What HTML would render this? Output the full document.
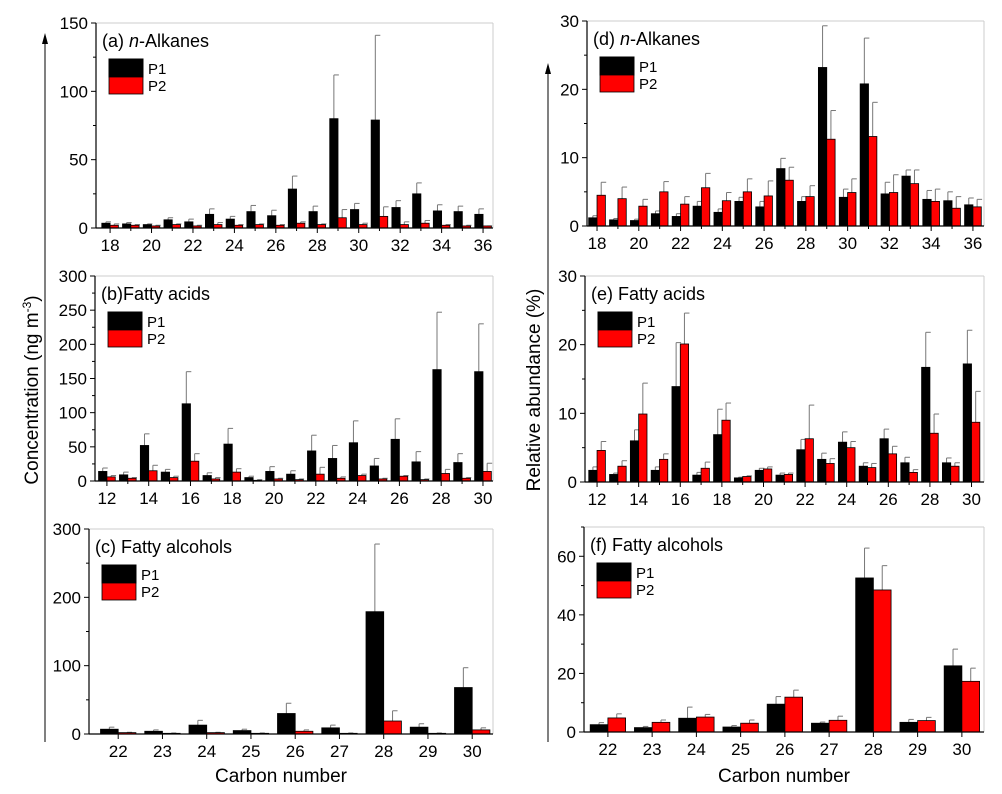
<!DOCTYPE html>
<html><head><meta charset="utf-8">
<style>
body{margin:0;background:#fff;}
svg{display:block;font-family:"Liberation Sans",Arial,sans-serif;}
</style></head>
<body>
<svg id="chart" width="1002" height="794" viewBox="0 0 1002 794" xmlns="http://www.w3.org/2000/svg">
<g>
<line x1="45" y1="742" x2="45" y2="40" stroke="#000" stroke-width="1"/>
<polygon points="45,33 42,44 48,44" fill="#000"/>
<text x="38" y="390" font-size="19" text-anchor="middle" transform="rotate(-90 38 390)">Concentration (ng m<tspan font-size="12" dy="-7">-3</tspan><tspan dy="7">)</tspan></text>
</g>
<g>
<line x1="548" y1="742" x2="548" y2="70" stroke="#000" stroke-width="1"/>
<polygon points="548,63 545,74 551,74" fill="#000"/>
<text x="540" y="390" font-size="19" text-anchor="middle" transform="rotate(-90 540 390)">Relative abundance (%)</text>
</g>
<text x="281" y="782" font-size="19" text-anchor="middle">Carbon number</text>
<text x="784" y="782" font-size="19" text-anchor="middle">Carbon number</text>
</svg>
<script>
const alkC=[18,19,20,21,22,23,24,25,26,27,28,29,30,31,32,33,34,35,36];
const faC=[12,13,14,15,16,17,18,19,20,21,22,23,24,25,26,27,28,29,30];
const alcC=[22,23,24,25,26,27,28,29,30];
const aP1=[3.5,3,2.5,6,4.5,10,6.5,12,9,28.5,12,80,13.5,79,15,25,12.5,12,10];
const aP1e=[4.5,4,3,7.5,6.5,14,8.5,16.5,13,38,16,112,18,141,20,33,17,16,14];
const aP2=[2,2,1.5,2.5,1.5,2.5,2,2.5,2,3.5,2.5,7.5,2.5,8.5,2.5,3.5,2,1.5,1.5];
const aP2e=[3,2.5,2,3,2,4,2.5,3,2.5,4.5,3,13.5,3.5,15.5,4.5,5.5,2.5,2,1.5];
const bP1=[14,9,52,13,113,8,54,5,14,10,44,33,56,22,61,28,163,27,160];
const bP1e=[19,13,69,17,160,12,77,7,21,15,67,52,88,33,91,43,247,40,230];
const bP2=[6,4,15,5,29,3,13,1,3,2,10,4,8,3,7,2,11,4,14];
const bP2e=[8,5,23,7,40,5,18,2,4,3,20,6,10,4,8,3,17,5,26];
const cP1=[7,4,13,5,30,9,179,10,68];
const cP1e=[10,6,20,7,45,13,278,15,97];
const cP2=[2,1,2,1,4,1,19,1,6];
const cP2e=[2.5,1.5,2.5,1.5,6,1.5,34,1.5,9];
const dP1=[1.2,0.9,0.8,1.8,1.4,2.9,2.0,3.6,2.8,8.4,3.6,23.2,4.2,20.8,4.7,7.3,3.9,3.7,3.1];
const dP1e=[1.5,1.1,1.0,2.2,1.8,3.6,2.5,4.2,3.6,9.9,4.3,29.3,5.4,27.5,6.4,8.2,5.2,5.0,4.1];
const dP2=[4.5,4.0,2.9,5.0,3.2,5.6,3.7,5.0,4.4,6.7,4.3,12.7,4.9,13.1,4.9,6.2,3.6,2.6,2.8];
const dP2e=[6.4,5.7,3.9,6.5,4.3,7.7,4.9,6.9,6.6,8.6,5.9,16.9,6.9,18.1,7.5,8.2,5.4,4.3,3.9];
const eP1=[1.7,1.1,6.0,1.7,13.9,1.0,6.9,0.6,1.7,1.0,4.7,3.3,5.8,2.3,6.3,2.8,16.7,2.8,17.2];
const eP1e=[2.2,1.3,7.6,2.2,20.3,1.4,10.6,0.7,2.0,1.3,6.2,4.2,7.3,2.8,7.7,3.6,21.8,3.5,22.1];
const eP2=[4.6,2.3,9.9,3.3,20.1,2.0,9.0,0.8,1.9,1.1,6.3,2.7,5.0,2.1,4.1,1.4,7.1,2.3,8.7];
const eP2e=[5.9,3.1,14.4,4.1,24.6,2.9,11.5,0.9,2.2,1.3,11.2,3.4,5.9,2.7,5.2,1.8,9.9,2.8,13.2];
const fP1=[2.5,1.5,4.7,1.7,9.5,3.0,52.6,3.3,22.6];
const fP1e=[3.2,1.9,8.5,2.2,12.1,3.4,62.8,4.3,28.3];
const fP2=[4.8,3.3,5.1,3.0,11.9,4.0,48.5,3.9,17.3];
const fP2e=[6.2,4.1,6.0,4.1,14.3,5.4,56.8,5.0,21.8];
const alkTicks=[18,20,22,24,26,28,30,32,34,36];
const faTicks=[12,14,16,18,20,22,24,26,28,30];
const yTicksA=[0,50,100,150];
const yTicksB=[0,50,100,150,200,250,300];
const yTicksC=[0,100,200,300];
const yTicksD=[0,10,20,30];
const yTicksF=[0,20,40,60];

const NS='http://www.w3.org/2000/svg';
const svg=document.getElementById('chart');
function mk(tag,attrs,parent){const e=document.createElementNS(NS,tag);for(const k in attrs)e.setAttribute(k,attrs[k]);parent.appendChild(e);return e;}

function panel(o){
  const g=mk('g',{},svg);
  
  
  const sx=v=>o.L+(v-o.x0)/(o.x1-o.x0)*(o.R-o.L);
  const sy=v=>o.B-(v-o.y0)/(o.y1-o.y0)*(o.B-o.T);
  const step=sx(1)-sx(0), bw=step*0.4;
  mk('line',{x1:o.L,y1:o.T,x2:o.R,y2:o.T,stroke:'#ccc'},g);
  mk('line',{x1:o.R,y1:o.T,x2:o.R,y2:o.B,stroke:'#ccc'},g);
  const series=[[o.p1,o.p1e,'#000',-1],[o.p2,o.p2e,'#ff0000',0]];
  series.forEach((s,si)=>{
    o.cats.forEach((c,i)=>{
      const x=sx(c)+s[3]*bw;
      const top=sy(s[1][i]), yv=sy(s[0][i]);
      const el=mk('line',{x1:x+bw/2,y1:yv,x2:x+bw/2,y2:top,stroke:'#777','stroke-width':1},g);
      
      
      mk('line',{x1:x+bw/2,y1:top,x2:x+bw/2+5,y2:top,stroke:'#777','stroke-width':1},g);
      const r=mk('rect',{x:x,y:yv,width:bw,height:Math.max(0,o.B-yv),fill:s[2],stroke:'#000','stroke-width':0.8},g);
      
      
    });
  });
  mk('line',{x1:o.L,y1:o.T,x2:o.L,y2:o.B,stroke:'#000','stroke-width':1.2},g);
  mk('line',{x1:o.L,y1:o.B,x2:o.R,y2:o.B,stroke:'#000','stroke-width':1.2},g);
  o.yt.forEach((t,i)=>{
    const y=sy(t);
    mk('line',{x1:o.L-5,y1:y,x2:o.L,y2:y,stroke:'#000'},g);
    const tx=mk('text',{x:o.L-8,y:y+6,'font-size':17,'text-anchor':'end'},g);tx.textContent=t;
    
    
    if(i<o.yt.length-1){const m=sy((t+o.yt[i+1])/2);mk('line',{x1:o.L-3,y1:m,x2:o.L,y2:m,stroke:'#000'},g);}
  });
  if(o.minorTop){const m=sy(o.minorTop);mk('line',{x1:o.L-3,y1:m,x2:o.L,y2:m,stroke:'#000'},g);}
  o.cats.forEach(c=>{mk('line',{x1:sx(c),y1:o.B,x2:sx(c),y2:o.B+(o.xt.includes(c)?5:3),stroke:'#000'},g);});
  o.xt.forEach(t=>{
    const tx=mk('text',{x:sx(t),y:o.B+23,'font-size':17,'text-anchor':'middle'},g);tx.textContent=t;
    
    
  });
  const ti=mk('text',{x:o.L+6,y:o.T+24,'font-size':18},g);
  
  
  ti.innerHTML=o.title;
  const lx=o.L+13, ly=o.T+36;
  const lg=mk('g',{},g);
  
  
  mk('rect',{x:lx,y:ly,width:34,height:18,fill:'#000',stroke:'#000'},lg);
  mk('rect',{x:lx,y:ly+18,width:34,height:17,fill:'#ff0000',stroke:'#000','stroke-width':0.8},lg);
  const t1=mk('text',{x:lx+39,y:ly+15,'font-size':15},lg);t1.textContent='P1';
  const t2=mk('text',{x:lx+39,y:ly+32,'font-size':15},lg);t2.textContent='P2';
}
panel({id:'a',title:'(a) <tspan font-style="italic">n</tspan>-Alkanes',L:96,R:493,T:23,B:228,x0:17.32,x1:36.48,y0:0,y1:150,cats:alkC,xt:alkTicks,yt:yTicksA,p1:aP1,p1e:aP1e,p2:aP2,p2e:aP2e});
panel({id:'b',title:'(b)Fatty acids',L:95,R:493,T:276,B:481,x0:11.43,x1:30.48,y0:0,y1:300,cats:faC,xt:faTicks,yt:yTicksB,p1:bP1,p1e:bP1e,p2:bP2,p2e:bP2e});
panel({id:'c',title:'(c) Fatty alcohols',L:89,R:493,T:529,B:734,x0:21.34,x1:30.47,y0:0,y1:300,cats:alcC,xt:alcC,yt:yTicksC,p1:cP1,p1e:cP1e,p2:cP2,p2e:cP2e});
panel({id:'d',title:'(d) <tspan font-style="italic">n</tspan>-Alkanes',L:587,R:984,T:21,B:226,x0:17.52,x1:36.53,y0:0,y1:30,cats:alkC,xt:alkTicks,yt:yTicksD,p1:dP1,p1e:dP1e,p2:dP2,p2e:dP2e});
panel({id:'e',title:'(e) Fatty acids',L:585,R:984,T:276,B:482,x0:11.42,x1:30.6,y0:0,y1:30,cats:faC,xt:faTicks,yt:yTicksD,p1:eP1,p1e:eP1e,p2:eP2,p2e:eP2e});
panel({id:'f',title:'(f) Fatty alcohols',L:584,R:984,T:527,B:732,x0:21.46,x1:30.5,y0:0,y1:70,cats:alcC,xt:alcC,yt:yTicksF,minorTop:70,p1:fP1,p1e:fP1e,p2:fP2,p2e:fP2e});
</script>
</body></html>
